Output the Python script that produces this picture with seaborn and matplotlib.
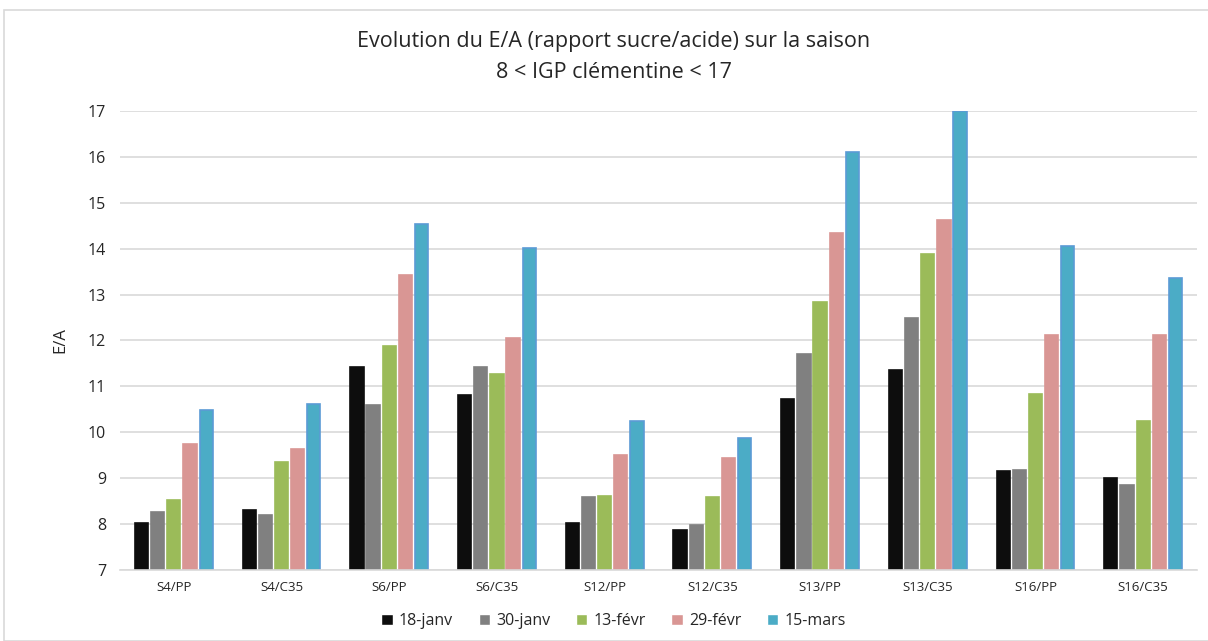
import matplotlib.pyplot as plt
import matplotlib.patches as mpatches
import pandas as pd
import seaborn as sns

# E/A per sample, one list per sampling date
samples = ["S4/PP", "S4/C35", "S6/PP", "S6/C35", "S12/PP",
           "S12/C35", "S13/PP", "S13/C35", "S16/PP", "S16/C35"]
dates = ["18-janv", "30-janv", "13-févr", "29-févr", "15-mars"]
ea_18jan = [8.02, 8.30, 11.43, 10.82, 8.03, 7.88, 10.73, 11.35, 9.15, 9.00]
ea_30jan = [8.27, 8.20, 10.60, 11.43, 8.58, 7.97, 11.70, 12.48, 9.18, 8.85]
ea_13fev = [8.52, 9.35, 11.88, 11.28, 8.62, 8.58, 12.83, 13.88, 10.83, 10.25]
ea_29fev = [9.75, 9.63, 13.43, 12.05, 9.50, 9.43, 14.35, 14.62, 12.12, 12.13]
ea_15mar = [10.48, 10.62, 14.53, 14.02, 10.25, 9.87, 16.10, 17.00, 14.05, 13.37]

colors = ["#0d0d0d", "#808080", "#9bbb59", "#d99694", "#4bacc6"]
edges = ["#0d0d0d", "#808080", "#9bbb59", "#d99694", "#5b9bd5"]

series = [ea_18jan, ea_30jan, ea_13fev, ea_29fev, ea_15mar]
rows = []
for d, vals in zip(dates, series):
    for s, v in zip(samples, vals):
        rows.append({"sample": s, "date": d, "ea": v})
df = pd.DataFrame(rows)

sns.set_style("white")
plt.rcParams['font.family'] = ['Open Sans', 'DejaVu Sans']

fig = plt.figure(figsize=(12.08, 6.41), dpi=100)
ax = fig.add_axes([120 / 1208, 71 / 641, 1077 / 1208, 459 / 641])

sns.barplot(data=df, x="sample", y="ea", hue="date", hue_order=dates,
            palette=colors, saturation=1, width=0.75, gap=0.18, ax=ax,
            legend=True)
for cont, ec in zip(ax.containers, edges):
    for p in cont.patches:
        p.set_edgecolor(ec)
        p.set_linewidth(1.2)

# bars start at the axis floor (7), not at 0
ax.set_ylim(7, 17)
ax.set_yticks(range(7, 18))
ax.tick_params(axis="y", labelsize=11.5, length=0, pad=10)
ax.tick_params(axis="x", labelsize=9.5, length=0, pad=8)
ax.grid(axis="y", color="#d9d9d9", linewidth=1.2)
ax.set_axisbelow(True)
for side in ["left", "right", "top"]:
    ax.spines[side].set_visible(False)
ax.spines["bottom"].set_color("#d9d9d9")
ax.spines["bottom"].set_linewidth(1.2)
ax.set_xlim(-0.5, 9.5)
ax.set_xlabel("")
ax.set_ylabel("E/A", fontsize=12, labelpad=14)

handles, labels = ax.get_legend_handles_labels()
ax.get_legend().remove()
fig.legend(handles, labels, loc="center", bbox_to_anchor=(0.508, 1 - 621 / 641),
           ncol=5, frameon=False, fontsize=11.5, handlelength=0.7,
           handleheight=0.7, handletextpad=0.4, columnspacing=1.6)

fig.text(0.508, 1 - 42 / 641, "Evolution du E/A (rapport sucre/acide) sur la saison",
         ha="center", va="center", fontsize=15.5)
fig.text(0.508, 1 - 72 / 641, "8 < IGP clémentine < 17",
         ha="center", va="center", fontsize=15.5)

fig.patches.append(mpatches.Rectangle((4 / 1208, 0), 1.0, 1 - 10 / 641,
                                      transform=fig.transFigure, fill=False,
                                      edgecolor="#d9d9d9", linewidth=1.2))

fig.savefig("out.png", dpi=100)
